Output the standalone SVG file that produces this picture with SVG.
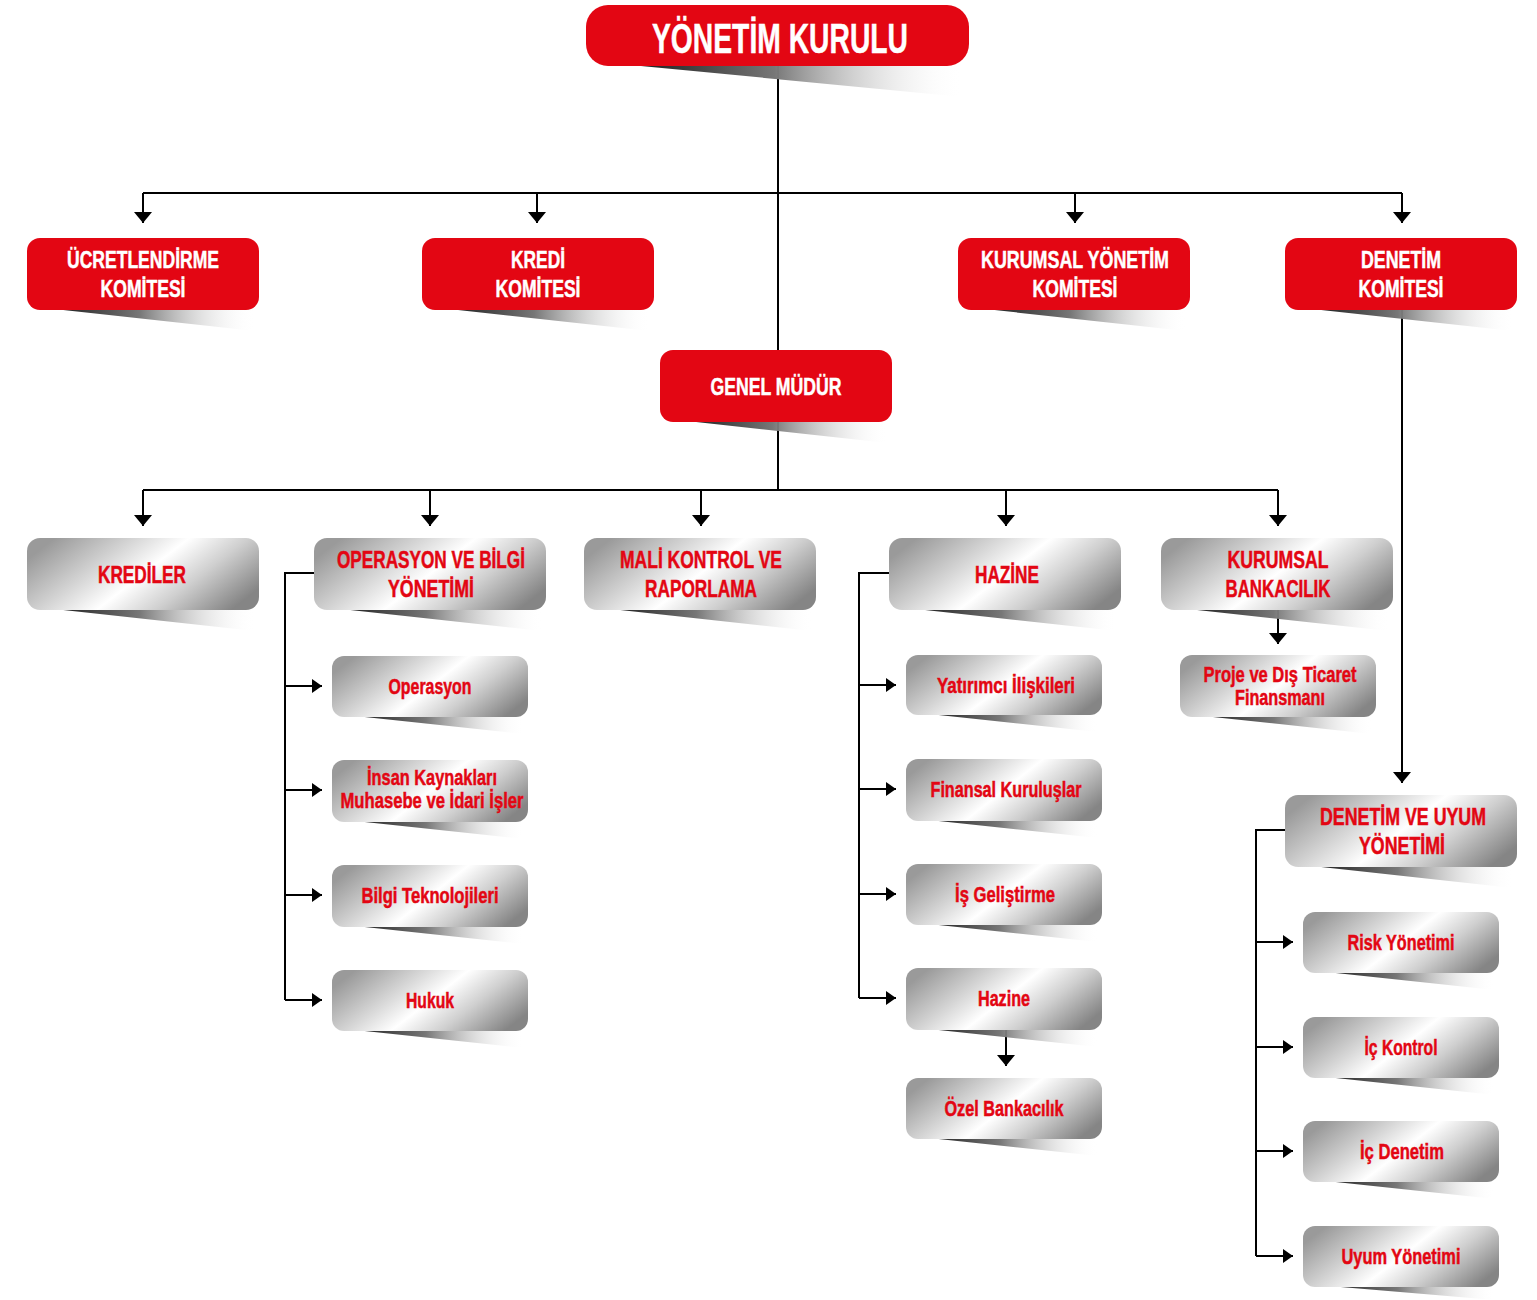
<svg xmlns="http://www.w3.org/2000/svg" width="1537" height="1300" viewBox="0 0 1537 1300">
<style>
.red{fill:#e30613}
.gray{fill:url(#metal)}
.sh{fill:url(#shade)}
.tw,.tr{font-family:"Liberation Sans",Arial,sans-serif;font-weight:bold;text-anchor:middle;stroke-width:0.5}
.tw{fill:#fff;stroke:#fff}
.tr{fill:#e30613;stroke:#e30613}
.big{font-size:24px}
.sm{font-size:22px}
.ln{stroke:#000;stroke-width:2;fill:none}
</style>
<defs>
<linearGradient id="shade" x1="0" y1="0" x2="1" y2="0">
<stop offset="0" stop-color="#111"/>
<stop offset="0.45" stop-color="#777"/>
<stop offset="1" stop-color="#fff" stop-opacity="0"/>
</linearGradient>
<linearGradient id="metal" x1="0" y1="0.3" x2="1" y2="0.7">
<stop offset="0" stop-color="#9a9a9a"/>
<stop offset="0.3" stop-color="#d6d6d6"/>
<stop offset="0.5" stop-color="#ffffff"/>
<stop offset="0.72" stop-color="#cfcfcf"/>
<stop offset="1" stop-color="#858585"/>
</linearGradient>
<marker id="ar" viewBox="0 0 11 18" refX="11" refY="9" markerWidth="11" markerHeight="18" markerUnits="userSpaceOnUse" orient="auto">
<path d="M0,0 L11,9 L0,18 z" fill="#000"/>
</marker>
<marker id="as" viewBox="0 0 10 14" refX="10" refY="7" markerWidth="10" markerHeight="14" markerUnits="userSpaceOnUse" orient="auto">
<path d="M0,0 L10,7 L0,14 z" fill="#000"/>
</marker>
</defs>

<g id="connectors">
<path class="ln" d="M778,66 V490"/>
<path class="ln" d="M143,193 H1402"/>
<path class="ln" d="M143,193 V223" marker-end="url(#ar)"/>
<path class="ln" d="M537,193 V223" marker-end="url(#ar)"/>
<path class="ln" d="M1075,193 V223" marker-end="url(#ar)"/>
<path class="ln" d="M1402,193 V223" marker-end="url(#ar)"/>
<path class="ln" d="M1402,310 V783" marker-end="url(#ar)"/>
<path class="ln" d="M143,490 H1278"/>
<path class="ln" d="M143,490 V526" marker-end="url(#ar)"/>
<path class="ln" d="M430,490 V526" marker-end="url(#ar)"/>
<path class="ln" d="M701,490 V526" marker-end="url(#ar)"/>
<path class="ln" d="M1006,490 V526" marker-end="url(#ar)"/>
<path class="ln" d="M1278,490 V526" marker-end="url(#ar)"/>
<path class="ln" d="M1278,610 V644" marker-end="url(#ar)"/>
<path class="ln" d="M314,573 H285 V1000"/>
<path class="ln" d="M285,686 H322" marker-end="url(#as)"/>
<path class="ln" d="M285,790 H322" marker-end="url(#as)"/>
<path class="ln" d="M285,895 H322" marker-end="url(#as)"/>
<path class="ln" d="M285,1000 H322" marker-end="url(#as)"/>
<path class="ln" d="M889,573 H859 V998"/>
<path class="ln" d="M859,685 H896" marker-end="url(#as)"/>
<path class="ln" d="M859,789 H896" marker-end="url(#as)"/>
<path class="ln" d="M859,894 H896" marker-end="url(#as)"/>
<path class="ln" d="M859,998 H896" marker-end="url(#as)"/>
<path class="ln" d="M1006,1030 V1066" marker-end="url(#ar)"/>
<path class="ln" d="M1285,830 H1256 V1256"/>
<path class="ln" d="M1256,942 H1293" marker-end="url(#as)"/>
<path class="ln" d="M1256,1047 H1293" marker-end="url(#as)"/>
<path class="ln" d="M1256,1151 H1293" marker-end="url(#as)"/>
<path class="ln" d="M1256,1256 H1293" marker-end="url(#as)"/>
</g>

<g id="yonetim-kurulu">
<polygon class="sh" points="620,64 963,64 963,97"/>
<rect class="red" x="586" y="5" width="383" height="61" rx="22"/>
<text class="tw" x="780" y="53" font-size="43" textLength="256" lengthAdjust="spacingAndGlyphs">YÖNETİM KURULU</text>
</g>

<g id="ucretlendirme">
<polygon class="sh" points="45,308 255,308 255,331"/>
<rect class="red" x="27" y="238" width="232" height="72" rx="13"/>
<text class="tw big" x="143" y="268" textLength="152" lengthAdjust="spacingAndGlyphs">ÜCRETLENDİRME</text>
<text class="tw big" x="143" y="297" textLength="85" lengthAdjust="spacingAndGlyphs">KOMİTESİ</text>
</g>
<g id="kredi-komitesi">
<polygon class="sh" points="440,308 650,308 650,331"/>
<rect class="red" x="422" y="238" width="232" height="72" rx="13"/>
<text class="tw big" x="538" y="268" textLength="54" lengthAdjust="spacingAndGlyphs">KREDİ</text>
<text class="tw big" x="538" y="297" textLength="85" lengthAdjust="spacingAndGlyphs">KOMİTESİ</text>
</g>
<g id="kurumsal-yonetim">
<polygon class="sh" points="976,308 1186,308 1186,331"/>
<rect class="red" x="958" y="238" width="232" height="72" rx="13"/>
<text class="tw big" x="1075" y="268" textLength="188" lengthAdjust="spacingAndGlyphs">KURUMSAL YÖNETİM</text>
<text class="tw big" x="1075" y="297" textLength="85" lengthAdjust="spacingAndGlyphs">KOMİTESİ</text>
</g>
<g id="denetim-komitesi">
<polygon class="sh" points="1303,308 1513,308 1513,331"/>
<rect class="red" x="1285" y="238" width="232" height="72" rx="13"/>
<text class="tw big" x="1401" y="268" textLength="80" lengthAdjust="spacingAndGlyphs">DENETİM</text>
<text class="tw big" x="1401" y="297" textLength="85" lengthAdjust="spacingAndGlyphs">KOMİTESİ</text>
</g>
<g id="genel-mudur">
<polygon class="sh" points="678,420 888,420 888,443"/>
<rect class="red" x="660" y="350" width="232" height="72" rx="13"/>
<text class="tw big" x="776" y="395" textLength="131" lengthAdjust="spacingAndGlyphs">GENEL MÜDÜR</text>
</g>

<g id="krediler">
<polygon class="sh" points="45,608 255,608 255,631"/>
<rect class="gray" x="27" y="538" width="232" height="72" rx="13"/>
<text class="tr big" x="142" y="583" textLength="88" lengthAdjust="spacingAndGlyphs">KREDİLER</text>
</g>
<g id="operasyon-bilgi">
<polygon class="sh" points="332,608 542,608 542,631"/>
<rect class="gray" x="314" y="538" width="232" height="72" rx="13"/>
<text class="tr big" x="431" y="568" textLength="188" lengthAdjust="spacingAndGlyphs">OPERASYON VE BİLGİ</text>
<text class="tr big" x="431" y="597" textLength="86" lengthAdjust="spacingAndGlyphs">YÖNETİMİ</text>
</g>
<g id="mali-kontrol">
<polygon class="sh" points="602,608 812,608 812,631"/>
<rect class="gray" x="584" y="538" width="232" height="72" rx="13"/>
<text class="tr big" x="701" y="568" textLength="162" lengthAdjust="spacingAndGlyphs">MALİ KONTROL VE</text>
<text class="tr big" x="701" y="597" textLength="112" lengthAdjust="spacingAndGlyphs">RAPORLAMA</text>
</g>
<g id="hazine-main">
<polygon class="sh" points="907,608 1117,608 1117,631"/>
<rect class="gray" x="889" y="538" width="232" height="72" rx="13"/>
<text class="tr big" x="1007" y="583" textLength="64" lengthAdjust="spacingAndGlyphs">HAZİNE</text>
</g>
<g id="kurumsal-bankacilik">
<polygon class="sh" points="1179,608 1389,608 1389,631"/>
<rect class="gray" x="1161" y="538" width="232" height="72" rx="13"/>
<text class="tr big" x="1278" y="568" textLength="101" lengthAdjust="spacingAndGlyphs">KURUMSAL</text>
<text class="tr big" x="1278" y="597" textLength="105" lengthAdjust="spacingAndGlyphs">BANKACILIK</text>
</g>

<g id="operasyon">
<polygon class="sh" points="346,715 524,715 524,734"/>
<rect class="gray" x="332" y="656" width="196" height="61" rx="12"/>
<text class="tr sm" x="430" y="694" textLength="83" lengthAdjust="spacingAndGlyphs">Operasyon</text>
</g>
<g id="insan-kaynaklari">
<polygon class="sh" points="346,820 524,820 524,839"/>
<rect class="gray" x="332" y="760" width="196" height="62" rx="12"/>
<text class="tr sm" x="432" y="785" textLength="130" lengthAdjust="spacingAndGlyphs">İnsan Kaynakları</text>
<text class="tr sm" x="432" y="808" textLength="183" lengthAdjust="spacingAndGlyphs">Muhasebe ve İdari İşler</text>
</g>
<g id="bilgi-teknolojileri">
<polygon class="sh" points="346,925 524,925 524,944"/>
<rect class="gray" x="332" y="865" width="196" height="62" rx="12"/>
<text class="tr sm" x="430" y="903" textLength="137" lengthAdjust="spacingAndGlyphs">Bilgi Teknolojileri</text>
</g>
<g id="hukuk">
<polygon class="sh" points="346,1029 524,1029 524,1048"/>
<rect class="gray" x="332" y="970" width="196" height="61" rx="12"/>
<text class="tr sm" x="430" y="1008" textLength="48" lengthAdjust="spacingAndGlyphs">Hukuk</text>
</g>

<g id="yatirimci">
<polygon class="sh" points="920,713 1098,713 1098,732"/>
<rect class="gray" x="906" y="655" width="196" height="60" rx="12"/>
<text class="tr sm" x="1006" y="693" textLength="138" lengthAdjust="spacingAndGlyphs">Yatırımcı İlişkileri</text>
</g>
<g id="finansal-kuruluslar">
<polygon class="sh" points="920,819 1098,819 1098,838"/>
<rect class="gray" x="906" y="759" width="196" height="62" rx="12"/>
<text class="tr sm" x="1006" y="797" textLength="151" lengthAdjust="spacingAndGlyphs">Finansal Kuruluşlar</text>
</g>
<g id="is-gelistirme">
<polygon class="sh" points="920,923 1098,923 1098,942"/>
<rect class="gray" x="906" y="864" width="196" height="61" rx="12"/>
<text class="tr sm" x="1005" y="902" textLength="100" lengthAdjust="spacingAndGlyphs">İş Geliştirme</text>
</g>
<g id="hazine-sub">
<polygon class="sh" points="920,1028 1098,1028 1098,1047"/>
<rect class="gray" x="906" y="968" width="196" height="62" rx="12"/>
<text class="tr sm" x="1004" y="1006" textLength="52" lengthAdjust="spacingAndGlyphs">Hazine</text>
</g>
<g id="ozel-bankacilik">
<polygon class="sh" points="920,1137 1098,1137 1098,1156"/>
<rect class="gray" x="906" y="1078" width="196" height="61" rx="12"/>
<text class="tr sm" x="1004" y="1116" textLength="119" lengthAdjust="spacingAndGlyphs">Özel Bankacılık</text>
</g>

<g id="proje-dis-ticaret">
<polygon class="sh" points="1194,715 1372,715 1372,734"/>
<rect class="gray" x="1180" y="655" width="196" height="62" rx="12"/>
<text class="tr sm" x="1280" y="682" textLength="153" lengthAdjust="spacingAndGlyphs">Proje ve Dış Ticaret</text>
<text class="tr sm" x="1280" y="705" textLength="90" lengthAdjust="spacingAndGlyphs">Finansmanı</text>
</g>

<g id="denetim-uyum">
<polygon class="sh" points="1303,865 1513,865 1513,888"/>
<rect class="gray" x="1285" y="795" width="232" height="72" rx="13"/>
<text class="tr big" x="1403" y="825" textLength="166" lengthAdjust="spacingAndGlyphs">DENETİM VE UYUM</text>
<text class="tr big" x="1402" y="854" textLength="86" lengthAdjust="spacingAndGlyphs">YÖNETİMİ</text>
</g>
<g id="risk">
<polygon class="sh" points="1317,971 1495,971 1495,990"/>
<rect class="gray" x="1303" y="912" width="196" height="61" rx="12"/>
<text class="tr sm" x="1401" y="950" textLength="107" lengthAdjust="spacingAndGlyphs">Risk Yönetimi</text>
</g>
<g id="ic-kontrol">
<polygon class="sh" points="1317,1076 1495,1076 1495,1095"/>
<rect class="gray" x="1303" y="1017" width="196" height="61" rx="12"/>
<text class="tr sm" x="1401" y="1055" textLength="73" lengthAdjust="spacingAndGlyphs">İç Kontrol</text>
</g>
<g id="ic-denetim">
<polygon class="sh" points="1317,1180 1495,1180 1495,1199"/>
<rect class="gray" x="1303" y="1121" width="196" height="61" rx="12"/>
<text class="tr sm" x="1402" y="1159" textLength="84" lengthAdjust="spacingAndGlyphs">İç Denetim</text>
</g>
<g id="uyum">
<polygon class="sh" points="1317,1285 1495,1285 1495,1300"/>
<rect class="gray" x="1303" y="1226" width="196" height="61" rx="12"/>
<text class="tr sm" x="1401" y="1264" textLength="119" lengthAdjust="spacingAndGlyphs">Uyum Yönetimi</text>
</g>
</svg>
